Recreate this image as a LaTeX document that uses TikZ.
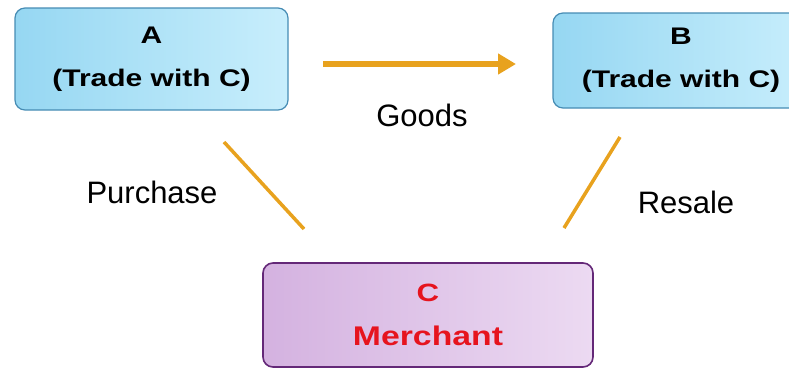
\documentclass[tikz,border=0pt]{standalone}
\usepackage{fontspec}
\setmainfont{Liberation Sans}
\newfontfamily\boxfont[FakeStretch=1.25]{Liberation Sans}
\usetikzlibrary{arrows.meta}

\definecolor{tradeedge}{RGB}{70,140,180}
\definecolor{tradeleft}{RGB}{150,215,242}
\definecolor{traderight}{RGB}{200,238,252}
\definecolor{merchedge}{RGB}{100,40,120}
\definecolor{merchleft}{RGB}{212,178,224}
\definecolor{merchright}{RGB}{236,218,242}
\definecolor{merchtext}{RGB}{230,20,30}
\definecolor{flowcolor}{RGB}{232,162,30}

\tikzset{
  tradebox/.style={draw=tradeedge, line width=1.2pt, rounded corners=10pt,
    left color=tradeleft, right color=traderight, align=center,
    font=\boxfont\bfseries\fontsize{24}{43}\selectfont},
  merchbox/.style={draw=merchedge, line width=1.6pt, rounded corners=10pt,
    left color=merchleft, right color=merchright, align=center,
    text=merchtext, font=\boxfont\bfseries\fontsize{25}{44}\selectfont},
  flowlabel/.style={font=\fontsize{31}{36}\selectfont},
  link/.style={draw=flowcolor, line width=3.5pt},
}

\begin{document}
\begin{tikzpicture}[x=1pt, y=-1pt]
\useasboundingbox (0,0) rectangle (789,368);

% the three traders
\node[tradebox, minimum width=273pt, minimum height=102pt] (A) at (151.5,59) {A\\(Trade with C)};
\node[tradebox, minimum width=256pt, minimum height=95pt] (B) at (681,60.5) {B\\(Trade with C)};
\node[merchbox, minimum width=330pt, minimum height=104pt] (C) at (428,315) {C\\{\fontsize{27}{44}\selectfont Merchant}};

% goods go from A to B
\coordinate (goodsfrom) at (323,64);
\coordinate (goodsto) at (516,64);
\draw[link, line width=5.5pt, -{Triangle[length=18pt,width=20pt]}] (goodsfrom) -- (goodsto);
\node[flowlabel] (goods) at (422,115) {Goods};

% C buys from A and sells to B
\coordinate (buyfrom) at (224,142);
\coordinate (buyto) at (304,229);
\draw[link] (buyfrom) -- (buyto);
\node[flowlabel] (purchase) at (152,192) {Purchase};

\coordinate (sellfrom) at (564,228);
\coordinate (sellto) at (620,137);
\draw[link] (sellfrom) -- (sellto);
\node[flowlabel] (resale) at (686,202) {Resale};

\end{tikzpicture}
\end{document}
